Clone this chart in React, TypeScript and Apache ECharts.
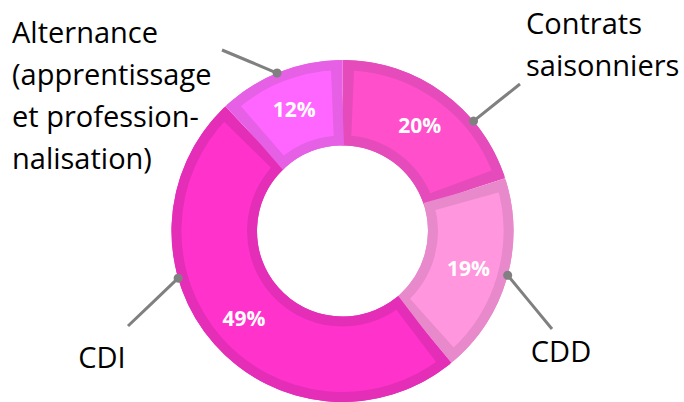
import React, { useEffect, useRef } from "react";
import * as echarts from "echarts";

// ---- data ----
const categories = [
  "Contrats\nsaisonniers",
  "CDD",
  "CDI",
  "Alternance\n(apprentissage\net profession-\nnalisation)",
];
const shares = [20, 19, 49, 12];

// ---- styles ----
const fillColors = ["#FF4FCB", "#FF96DE", "#FF33CC", "#FF66FF"];
const borderColors = ["#E64BBB", "#E889CC", "#E52EB8", "#E660E6"];
const lineGray = "#808080";

// ---- layout ----
const CENTER = [342.5, 231];
const R_OUT = 171;
const R_IN = 85.5;
const BORDER = 10;
const labelSpots = [
  { x: 526, y: 43, align: "left", lineHeight: 42, angle: 40, end: [520, 84] },
  { x: 561, y: 350, align: "center", lineHeight: 36, angle: -15, end: [552, 329] },
  { x: 102, y: 356, align: "center", lineHeight: 36, angle: 196, end: [128, 326] },
  { x: 12, y: 94, align: "left", lineHeight: 42, angle: 112.5, end: [222, 50] },
];

function edgePoint(angleDeg: number): number[] {
  const a = (angleDeg * Math.PI) / 180;
  return [CENTER[0] + R_OUT * Math.cos(a), CENTER[1] - R_OUT * Math.sin(a)];
}

export default function App() {
  const ref = useRef<HTMLDivElement>(null);
  useEffect(() => {
    if (!ref.current) return;
    const chart = echarts.init(ref.current, undefined, { renderer: "svg" });
    const outerData = categories.map((name, i) => ({
      name,
      value: shares[i],
      itemStyle: { color: borderColors[i] },
      label: { lineHeight: labelSpots[i].lineHeight },
    }));
    const innerData = categories.map((name, i) => ({
      name,
      value: shares[i],
      itemStyle: { color: fillColors[i], borderColor: borderColors[i] },
    }));
    chart.setOption({
      animation: false,
      series: [
        {
          type: "pie",
          center: CENTER,
          radius: [R_IN, R_OUT],
          startAngle: 90,
          clockwise: true,
          avoidLabelOverlap: false,
          silent: true,
          emphasis: { disabled: true },
          itemStyle: { borderWidth: 0 },
          label: {
            show: true,
            position: "outside",
            formatter: (p: any) => p.name,
            color: "#000000",
            fontFamily: "Open Sans",
            fontSize: 29,
          },
          labelLine: {
            show: true,
            lineStyle: { color: lineGray, width: 3 },
          },
          labelLayout: (params: any) => {
            const s = labelSpots[params.dataIndex];
            const p0 = edgePoint(s.angle);
            const p2 = s.end;
            const p1 = [(p0[0] + p2[0]) / 2, (p0[1] + p2[1]) / 2];
            return {
              x: s.x,
              y: s.y,
              align: s.align,
              verticalAlign: "middle",
              labelLinePoints: [p0, p1, p2],
            };
          },
          data: outerData,
          z: 1,
        },
        {
          type: "pie",
          center: CENTER,
          radius: [R_IN + BORDER / 2, R_OUT - BORDER / 2],
          startAngle: 90,
          clockwise: true,
          padAngle: 4.6,
          silent: true,
          emphasis: { disabled: true },
          itemStyle: { borderWidth: BORDER, borderJoin: "miter" },
          label: {
            show: true,
            position: "inside",
            formatter: (p: any) => p.value + "%",
            color: "#FFFFFF",
            fontFamily: "Open Sans",
            fontWeight: "bold",
            fontSize: 21,
          },
          labelLine: { show: false },
          data: innerData,
          z: 2,
        },
      ],
      graphic: labelSpots.map((s) => {
        const p = edgePoint(s.angle);
        return {
          type: "circle",
          z: 10,
          silent: true,
          shape: { cx: p[0], cy: p[1], r: 4.5 },
          style: { fill: lineGray },
        };
      }),
    });
    return () => chart.dispose();
  }, []);
  return (
    <div
      ref={ref}
      style={{ position: "fixed", left: 0, top: 0, width: 684, height: 402, background: "#ffffff" }}
    />
  );
}
